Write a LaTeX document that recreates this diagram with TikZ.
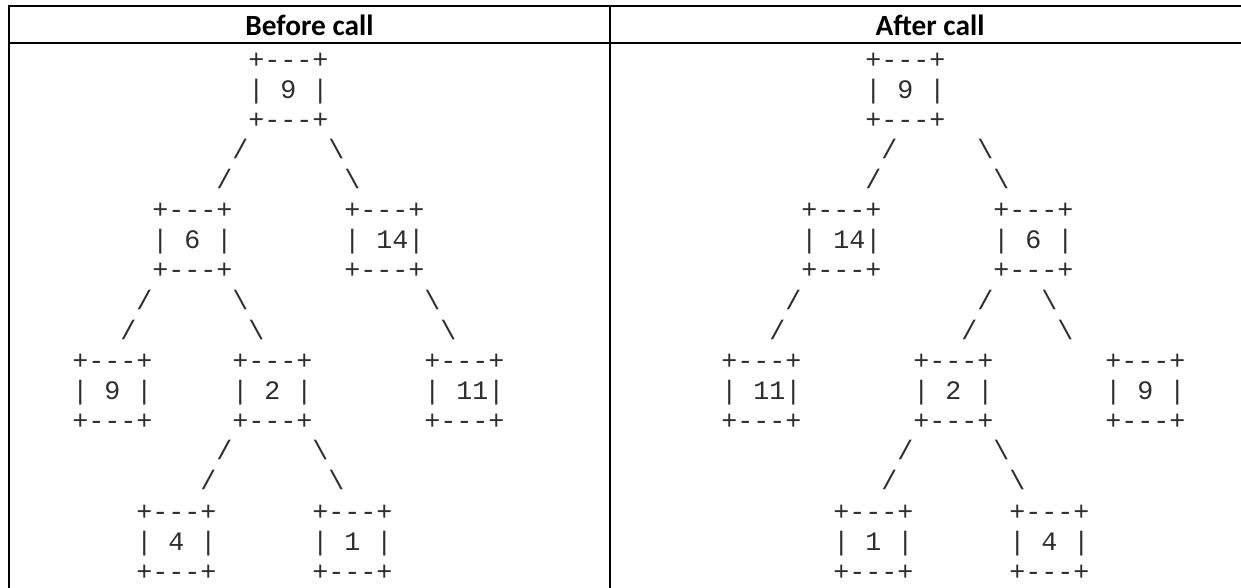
\documentclass[tikz,border=0pt]{standalone}
\usepackage{fontspec}
\setmainfont{Carlito}
\setmonofont{Liberation Mono}
% place one piece of ASCII art: name, origin x, column, row, text
\newcommand\artat[5]{\node[art] (#1) at ({#2+16*#3},{68+30.14*(#4-1)}) {#5};}
% a three-line ASCII box whose top line sits on the given row
\newcommand\artbox[5]{%
  \artat{#1t}{#2}{#3}{#4}{+---+}%
  \artat{#1m}{#2}{#3}{#4+1}{#5}%
  \artat{#1b}{#2}{#3}{#4+2}{+---+}}
\newcommand\fs{/}
\newcommand\bs{\textbackslash}
\def\XL{24.4}
\def\XR{625.4}
\begin{document}
\begin{tikzpicture}[x=0.75pt,y=-0.75pt,
  art/.style={font=\ttfamily\fontsize{20}{24}\selectfont, text=black!82, inner sep=0pt, outer sep=0pt, anchor=base west},
  head/.style={font=\bfseries\fontsize{22}{26}\selectfont, inner sep=0pt, anchor=base},
  rule/.style={line width=1.5pt, line cap=rect}]
\useasboundingbox (0,0) rectangle (1241,587);

% table rules
\begin{scope}
  \clip (0,0) rectangle (1241,587);
  \draw[rule] (9,6) -- (1260,6);
  \draw[rule] (9,43) -- (1260,43);
  \draw[rule] (9,6) -- (9,600);
  \draw[rule] (610,6) -- (610,600);
\end{scope}

% headers
\node[head] (hBefore) at (309.5,35) {Before call};
\node[head] (hAfter) at (930,35) {After call};

% tree before the call
\artbox{lRoot}{\XL}{14}{1}{| 9 |}
\artat{lA4}{\XL}{13}{4}{\fs}
\artat{lB4}{\XL}{19}{4}{\bs}
\artat{lA5}{\XL}{12}{5}{\fs}
\artat{lB5}{\XL}{20}{5}{\bs}
\artbox{lSix}{\XL}{8}{6}{| 6 |}
\artbox{lFourteen}{\XL}{20}{6}{| 14|}
\artat{lA9}{\XL}{7}{9}{\fs}
\artat{lB9}{\XL}{13}{9}{\bs}
\artat{lC9}{\XL}{25}{9}{\bs}
\artat{lA10}{\XL}{6}{10}{\fs}
\artat{lB10}{\XL}{14}{10}{\bs}
\artat{lC10}{\XL}{26}{10}{\bs}
\artbox{lNine}{\XL}{3}{11}{| 9 |}
\artbox{lTwo}{\XL}{13}{11}{| 2 |}
\artbox{lEleven}{\XL}{25}{11}{| 11|}
\artat{lA14}{\XL}{12}{14}{\fs}
\artat{lB14}{\XL}{18}{14}{\bs}
\artat{lA15}{\XL}{11}{15}{\fs}
\artat{lB15}{\XL}{19}{15}{\bs}
\artbox{lFour}{\XL}{7}{16}{| 4 |}
\artbox{lOne}{\XL}{18}{16}{| 1 |}

% tree after the call
\artbox{rRoot}{\XR}{15}{1}{| 9 |}
\artat{rA4}{\XR}{16}{4}{\fs}
\artat{rB4}{\XR}{22}{4}{\bs}
\artat{rA5}{\XR}{15}{5}{\fs}
\artat{rB5}{\XR}{23}{5}{\bs}
\artbox{rFourteen}{\XR}{11}{6}{| 14|}
\artbox{rSix}{\XR}{23}{6}{| 6 |}
\artat{rA9}{\XR}{10}{9}{\fs}
\artat{rB9}{\XR}{22}{9}{\fs}
\artat{rC9}{\XR}{26}{9}{\bs}
\artat{rA10}{\XR}{9}{10}{\fs}
\artat{rB10}{\XR}{21}{10}{\fs}
\artat{rC10}{\XR}{27}{10}{\bs}
\artbox{rEleven}{\XR}{6}{11}{| 11|}
\artbox{rTwo}{\XR}{18}{11}{| 2 |}
\artbox{rNine}{\XR}{30}{11}{| 9 |}
\artat{rA14}{\XR}{17}{14}{\fs}
\artat{rB14}{\XR}{23}{14}{\bs}
\artat{rA15}{\XR}{16}{15}{\fs}
\artat{rB15}{\XR}{24}{15}{\bs}
\artbox{rOne}{\XR}{13}{16}{| 1 |}
\artbox{rFour}{\XR}{24}{16}{| 4 |}
\end{tikzpicture}
\end{document}
